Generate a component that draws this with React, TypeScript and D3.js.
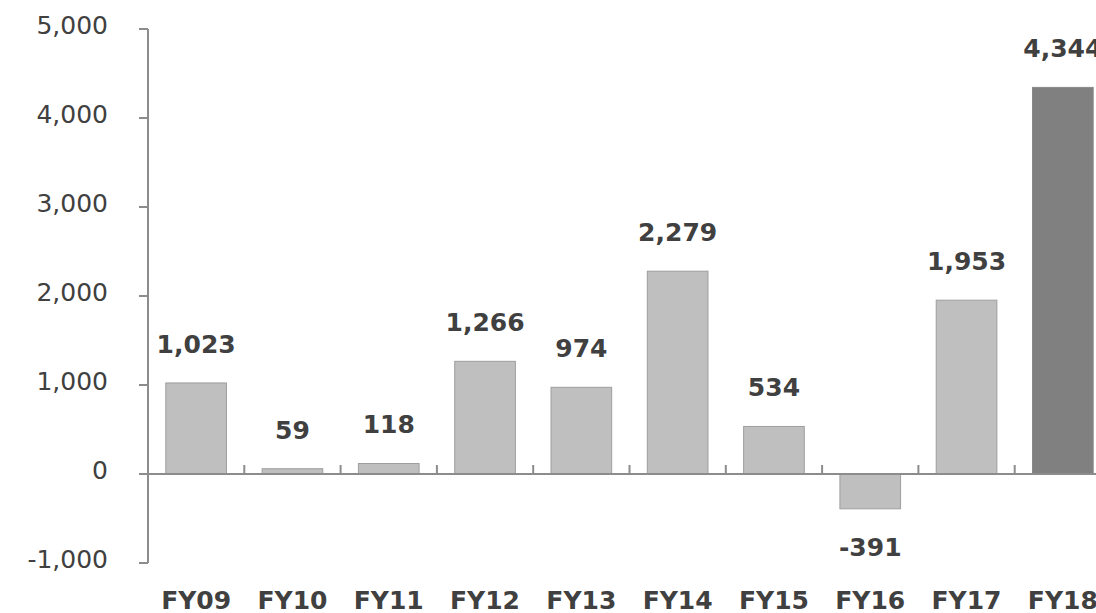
import React from "react";
import * as d3 from "d3";

const years = ["FY09", "FY10", "FY11", "FY12", "FY13", "FY14", "FY15", "FY16", "FY17", "FY18"];
const values = [1023, 59, 118, 1266, 974, 2279, 534, -391, 1953, 4344];
const yTicks = [-1000, 0, 1000, 2000, 3000, 4000, 5000];

const W = 1096;
const H = 613;
const axisColor = "#8c8c8c";
const textColor = "#404040";
const font = "'DejaVu Sans', Verdana, sans-serif";

// hyphen instead of unicode minus, like the source chart
const fmt = (v: number) => d3.format(",")(v).replace("\u2212", "-");

const App: React.FC = () => {
  const x = d3.scaleBand<string>()
    .domain(years)
    .range([148, 148 + 96.3 * years.length])
    .paddingInner(0.37)
    .paddingOuter(0.185);

  const y = d3.scaleLinear().domain([-1000, 5000]).range([563, 29]);
  const step = x.step();
  const x0 = x.range()[0];

  return (
    <div style={{ position: "absolute", left: 0, top: 0 }}>
      <svg width={W} height={H} style={{ display: "block", background: "#fff" }}>
        {/* y axis */}
        <line x1={148} x2={148} y1={y(5000)} y2={y(-1000)} stroke={axisColor} strokeWidth={2} />
        {yTicks.map(t => (
          <g key={t}>
            <line x1={139} x2={148} y1={y(t)} y2={y(t)} stroke={axisColor} strokeWidth={2} />
            <text
              x={108}
              y={y(t) + 5}
              textAnchor="end"
              fontFamily={font}
              fontSize={25}
              fill={textColor}
            >
              {fmt(t)}
            </text>
          </g>
        ))}

        {/* bars */}
        {years.map((yr, i) => {
          const v = values[i];
          const top = y(Math.max(0, v));
          const bottom = y(Math.min(0, v));
          const last = i === years.length - 1;
          return (
            <rect
              key={yr}
              x={x(yr)!}
              y={top}
              width={x.bandwidth()}
              height={bottom - top}
              fill={last ? "#808080" : "#bfbfbf"}
              stroke={last ? "#8a8a8a" : "#9e9e9e"}
              strokeWidth={1}
            />
          );
        })}

        {/* zero axis with category ticks */}
        <line x1={139} x2={W} y1={y(0)} y2={y(0)} stroke={axisColor} strokeWidth={2} />
        {years.slice(1).map((yr, i) => (
          <line
            key={yr}
            x1={x0 + step * (i + 1)}
            x2={x0 + step * (i + 1)}
            y1={y(0)}
            y2={y(0) - 9}
            stroke={axisColor}
            strokeWidth={2}
          />
        ))}

        {/* value labels */}
        {years.map((yr, i) => {
          const v = values[i];
          const cx = x(yr)! + x.bandwidth() / 2;
          const ly = v >= 0 ? y(v) - 30 : y(v) + 47;
          return (
            <text
              key={yr}
              x={cx}
              y={ly}
              textAnchor="middle"
              fontFamily={font}
              fontWeight="bold"
              fontSize={25}
              fill={textColor}
            >
              {fmt(v)}
            </text>
          );
        })}

        {/* category labels */}
        {years.map(yr => (
          <text
            key={yr}
            x={x(yr)! + x.bandwidth() / 2}
            y={609}
            textAnchor="middle"
            fontFamily={font}
            fontWeight="bold"
            fontSize={25}
            fill={textColor}
          >
            {yr}
          </text>
        ))}
      </svg>
    </div>
  );
};

export default App;
